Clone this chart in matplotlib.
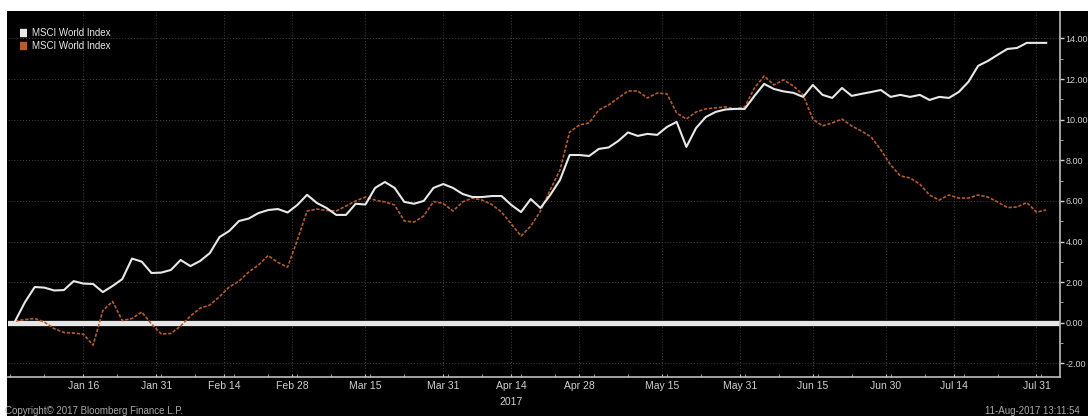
import numpy as np
import pandas as pd
import matplotlib
matplotlib.use("Agg")
import matplotlib.pyplot as plt
import matplotlib.dates as mdates
from matplotlib import patches

plt.rcParams['font.family'] = ['Liberation Sans Narrow', 'Liberation Sans', 'DejaVu Sans']

# ---------------------------------------------------------------- data
# sample dates, every second calendar day from the start of 2017
dates = pd.date_range("2017-01-02", periods=107, freq="2D")

# white series (%)
msci_white = [
    0.10, 1.02, 1.76, 1.73, 1.59, 1.61, 2.05, 1.93, 1.91, 1.51,
    1.81, 2.15, 3.16, 3.01, 2.45, 2.47, 2.60, 3.09, 2.79, 3.04,
    3.43, 4.22, 4.52, 5.01, 5.13, 5.40, 5.55, 5.60, 5.43, 5.80,
    6.30, 5.90, 5.65, 5.31, 5.31, 5.86, 5.82, 6.64, 6.93, 6.64,
    5.95, 5.86, 6.00, 6.64, 6.83, 6.64, 6.34, 6.19, 6.19, 6.24,
    6.24, 5.80, 5.45, 6.09, 5.65, 6.29, 7.03, 8.26, 8.26, 8.21,
    8.56, 8.63, 8.95, 9.37, 9.20, 9.30, 9.25, 9.64, 9.89, 8.66,
    9.59, 10.13, 10.38, 10.50, 10.53, 10.53, 11.17, 11.76, 11.51, 11.39,
    11.32, 11.12, 11.71, 11.22, 11.07, 11.56, 11.17, 11.27, 11.36, 11.46,
    11.12, 11.22, 11.12, 11.22, 10.97, 11.12, 11.07, 11.36, 11.86, 12.65,
    12.89, 13.19, 13.48, 13.53, 13.78, 13.78, 13.78,
]

# orange (dashed) series (%)
msci_orange = [
    0.08, 0.16, 0.21, 0.03, -0.29, -0.48, -0.51, -0.56, -1.10, 0.60,
    1.05, 0.11, 0.21, 0.53, -0.06, -0.55, -0.53, -0.16, 0.33, 0.72,
    0.87, 1.29, 1.76, 2.05, 2.50, 2.84, 3.31, 2.97, 2.74, 4.07,
    5.50, 5.60, 5.53, 5.50, 5.75, 6.00, 6.19, 6.04, 5.95, 5.80,
    5.01, 4.96, 5.26, 5.97, 5.87, 5.50, 5.95, 6.14, 6.04, 5.82,
    5.45, 4.86, 4.27, 4.76, 5.50, 6.54, 7.52, 9.39, 9.74, 9.84,
    10.48, 10.72, 11.07, 11.41, 11.41, 11.07, 11.31, 11.27, 10.33, 10.03,
    10.38, 10.53, 10.58, 10.63, 10.53, 10.63, 11.56, 12.15, 11.71, 11.96,
    11.66, 11.22, 10.03, 9.69, 9.84, 10.03, 9.69, 9.44, 9.15, 8.51,
    7.77, 7.23, 7.13, 6.83, 6.29, 6.04, 6.29, 6.14, 6.14, 6.29,
    6.19, 5.95, 5.67, 5.70, 5.92, 5.45, 5.55,
]

tick_dates = ["2017-01-16", "2017-01-31", "2017-02-14", "2017-02-28",
              "2017-03-15", "2017-03-31", "2017-04-14", "2017-04-28",
              "2017-05-15", "2017-05-31", "2017-06-15", "2017-06-30",
              "2017-07-14", "2017-07-31"]
tick_labels = ["Jan 16", "Jan 31", "Feb 14", "Feb 28", "Mar 15", "Mar 31",
               "Apr 14", "Apr 28", "May 15", "May 31", "Jun 15", "Jun 30",
               "Jul 14", "Jul 31"]
y_ticks = [-2, 0, 2, 4, 6, 8, 10, 12, 14]
legend_names = ["MSCI World Index", "MSCI World Index"]

# ---------------------------------------------------------------- figure
fig = plt.figure(figsize=(10.88, 4.16), dpi=100, facecolor="black")
ax = fig.add_axes([8/1088, 39/416, 1052/1088, 365/416])
ax.set_facecolor("black")

# white strips at top and left edge (scan borders)
fig.patches.append(patches.Rectangle((0, 405/416), 1, 11/416, transform=fig.transFigure,
                                     facecolor="white", edgecolor="none", zorder=0))
fig.patches.append(patches.Rectangle((0, 0), 7/1088, 1, transform=fig.transFigure,
                                     facecolor="white", edgecolor="none", zorder=0))

ax.axhline(0, color="#e6e6e6", lw=3.8, zorder=2)
ax.plot(dates, msci_white, color="#e8e8e8", lw=1.5, zorder=4, label=legend_names[0])
ax.plot(dates, msci_orange, color="#b55c2a", lw=1.2, ls=(0, (2, 1)), zorder=3,
        label=legend_names[1])

ax.set_xlim(pd.Timestamp("2016-12-31 12:00"), pd.Timestamp("2017-08-04 20:00"))
ax.set_ylim(-2.67, 15.3)

# grid
ax.set_xticks(pd.to_datetime(tick_dates))
ax.set_xticklabels(tick_labels)
ax.set_yticks(y_ticks)
ax.set_yticklabels(["%.2f" % v for v in y_ticks])
ax.set_yticks(np.arange(-2, 15, 1), minor=True)
ax.xaxis.set_minor_locator(mdates.DayLocator(bymonthday=[1, 8, 16, 23]))
ax.grid(True, which="major", color="#444444", ls=(0, (1, 2)), lw=0.7)

for s in ["top", "left"]:
    ax.spines[s].set_visible(False)
for s in ["bottom", "right"]:
    ax.spines[s].set_color("#bdbdbd")
    ax.spines[s].set_linewidth(1.2)

ax.yaxis.tick_right()
ax.tick_params(axis="y", which="major", colors="#d0d0d0", labelsize=6.5,
               direction="out", length=3, width=1, pad=1)
ax.tick_params(axis="y", which="minor", colors="#bdbdbd", direction="out", length=2)
ax.tick_params(axis="x", which="major", colors="#bdbdbd", labelcolor="#d0d0d0",
               labelsize=7.5, direction="in", length=2, pad=3)
ax.tick_params(axis="x", which="minor", colors="#bdbdbd", direction="in", length=2)

# year label under Apr 14
ax.text(pd.Timestamp("2017-04-14"), -0.068, "2017", transform=ax.get_xaxis_transform(),
        color="#d0d0d0", fontsize=7.5, ha="center", va="center")

# legend
leg = ax.legend(loc="upper left", bbox_to_anchor=(0.005, 0.975), frameon=False,
                fontsize=7, handlelength=0.7, handletextpad=0.5, labelspacing=0.35,
                borderpad=0.2)
for txt in leg.get_texts():
    txt.set_color("#e8e8e8")
for h in leg.legend_handles:
    h.set_linewidth(6)
    h.set_linestyle("-")
    h.set_solid_capstyle("butt")

fig.text(5/1088, 5/416, "Copyright\u00a9 2017 Bloomberg Finance L.P.", color="#a8a8a8",
         fontsize=7, ha="left", va="center")
fig.text(985/1088, 5/416, "11-Aug-2017 13:11:54", color="#a8a8a8",
         fontsize=7, ha="left", va="center")

fig.savefig("out.png", dpi=100, facecolor="black")
